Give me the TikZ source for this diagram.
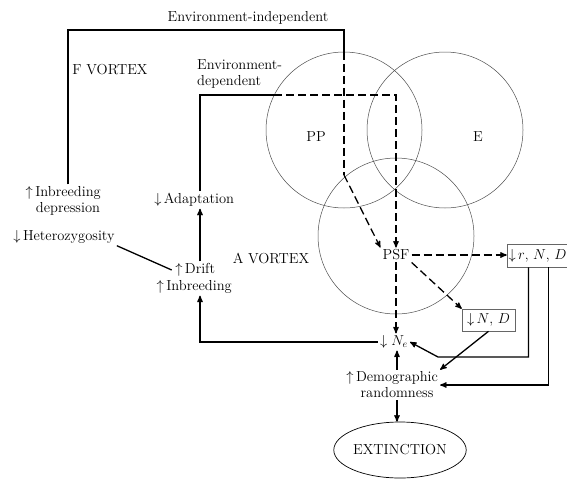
\documentclass[tikz,border=0pt]{standalone}
\usepackage{tikz}
\usetikzlibrary{arrows,shapes.geometric}
\begin{document}
\begin{tikzpicture}[>=stealth',x=1pt,y=-1pt,
                    font=\fontsize{14.5}{16}\selectfont]
\tikzstyle{every node}=[inner sep=2pt]
\tikzstyle{flow}=[line width=1.3pt]
\tikzstyle{dflow}=[flow,dash pattern=on 8pt off 4pt]
\tikzstyle{ring}=[draw=black!70,line width=0.5pt,circle,minimum size=156pt,inner sep=0pt]
\tikzstyle{tag}=[draw=black!60,line width=0.6pt,inner sep=1.5pt,font=\fontsize{14}{16}\selectfont]
\useasboundingbox (0,0) rectangle (567,479);

% the three circles
\node[ring] (PPc) at (344,130) {};
\node[ring] (Ec) at (445,130) {};
\node[ring] (Ac) at (396,236) {};

\node (envind) at (248,18) {Environment-independent};
\node (fvortex) at (110,70) {F VORTEX};
\node[align=left,anchor=west] (envdep) at (195,74) {Environment-\\dependent};
\node (PP) at (316,137) {PP};
\node (E) at (478,137) {E};
\node (PSF) at (396,255) {PSF};
\node (avortex) at (271,258) {A VORTEX};
\node[align=center] (inbdep) at (68,201) {\llap{$\uparrow$\,}Inbreeding\\depression};
\node (het) at (64,237) {$\downarrow$\,Heterozygosity};
\node (adapt) at (199,200) {\llap{$\downarrow$\,}Adaptation};
\node (drift) at (200,270) {\llap{$\uparrow$\,}Drift};
\node (inbr) at (199,287) {\llap{$\uparrow$\,}Inbreeding};
\node (Ne) at (394,342) {$\downarrow N_e$};
\node[align=center] (demo) at (397,385) {\llap{$\uparrow$\,}Demographic\\randomness};
\node[draw,ellipse,line width=0.7pt,minimum width=125pt,minimum height=56pt,inner sep=0pt] (ext) at (400,450) {EXTINCTION};
\node[tag,minimum width=59pt,minimum height=23pt] (rND) at (537.5,255.5) {$\downarrow$\,$r$, $N$, $D$};
\node[tag,minimum width=53pt,minimum height=22pt] (ND) at (488.5,320) {$\downarrow$\,$N$, $D$};

% bends
\coordinate (top) at (344,30);
\coordinate (kinkA) at (344,175);
\coordinate (inL) at (274,95);
\coordinate (k1) at (438,357);

% F vortex loop
\draw[flow] (inbdep.north) |- (top) -- (PPc.north);
\draw[dflow] (PPc.north) -- (kinkA);
\draw[dflow,->] (kinkA) -- (PSF.north west);
\draw[flow] (adapt.north -| drift.north) |- (inL);
\draw[dflow,->] (inL) -| (PSF.north);

% out of PSF
\draw[dflow,->] (PSF.east) -- (PSF.east -| rND.west);
\draw[dflow,->] (PSF.south east) -- (ND.north west);
\draw[dflow,->] (PSF.south) -- (PSF.south |- Ne.north);

% A vortex loop
\draw[flow,->] (Ne.west) -| (drift.south |- inbr.south);
\draw[flow,->] (drift.north) -- (drift.north |- adapt.south);
\draw[flow] (het.south east) -- ([xshift=-11pt]drift.west);
\draw[flow,->] (demo.north) -- (demo.north |- Ne.south);
\draw[flow,->] (demo.south) -- (demo.south |- ext.north);
\draw[flow,->] (ND.south) -- (demo.north east);
\draw[flow,->] ([xshift=-9pt]rND.south) |- (k1) -- (Ne.east);
\draw[flow,->] ([xshift=11pt]rND.south) |- (demo.east);
\end{tikzpicture}
\end{document}
